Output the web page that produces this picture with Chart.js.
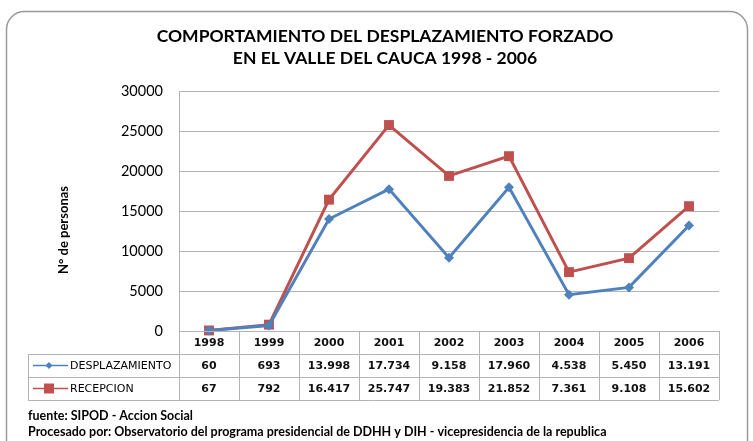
<!DOCTYPE html>
<html>
<head>
<meta charset="utf-8">
<script src="https://cdn.jsdelivr.net/npm/chart.js@4"></script>
<style>
  html, body { margin: 0; padding: 0; background: #fff; }
  #wrap { width: 753px; height: 441px; position: relative; }
</style>
</head>
<body>
<div id="wrap"><canvas id="chart" width="753" height="441"></canvas></div>
<script>
// Data
const years = ['1998', '1999', '2000', '2001', '2002', '2003', '2004', '2005', '2006'];
const desplazamiento = [60, 693, 13998, 17734, 9158, 17960, 4538, 5450, 13191];
const recepcion = [67, 792, 16417, 25747, 19383, 21852, 7361, 9108, 15602];
const yTicks = [0, 5000, 10000, 15000, 20000, 25000, 30000];

const titleLines = ['COMPORTAMIENTO DEL DESPLAZAMIENTO FORZADO', 'EN EL VALLE DEL CAUCA 1998 - 2006'];
const yTitle = 'N° de personas';
const footLines = [
  'fuente: SIPOD - Accion Social',
  'Procesado por: Observatorio del programa presidencial de DDHH y DIH - vicepresidencia de la republica'
];

const BLUE = '#4F81BD';
const RED = '#C0504D';
const GRID = '#B3B3B3';

// format numbers like 13.998
function fmt(v) {
  return v.toLocaleString('de-DE');
}

// Frame, title, axis title, data table and footer
const decorPlugin = {
  id: 'decor',
  beforeDraw(chart) {
    const ctx = chart.ctx;
    ctx.save();
    ctx.fillStyle = '#fff';
    ctx.fillRect(0, 0, chart.width, chart.height);
    // rounded frame
    ctx.strokeStyle = '#9a9a9a';
    ctx.lineWidth = 1.5;
    ctx.beginPath();
    ctx.roundRect(6.5, 11.5, 741, 460, 18);
    ctx.stroke();
    ctx.restore();
  },
  afterDraw(chart) {
    const ctx = chart.ctx;
    const area = chart.chartArea;
    const x = chart.scales.x;
    ctx.save();

    // title
    ctx.fillStyle = '#000';
    ctx.textAlign = 'center';
    ctx.textBaseline = 'middle';
    ctx.font = 'bold 17.5px Lato, "Open Sans", sans-serif';
    ctx.fillText(titleLines[0], 385, 36);
    ctx.fillText(titleLines[1], 385, 58);

    // y axis title
    ctx.save();
    ctx.translate(64, 230);
    ctx.rotate(-Math.PI / 2);
    ctx.font = 'bold 13px Lato, "Open Sans", sans-serif';
    ctx.fillText(yTitle, 0, 0);
    ctx.restore();

    // data table
    const tLeft = 28;
    const rowH = 23;
    const top = area.bottom;
    const rows = [top, top + rowH, top + rowH * 2, top + rowH * 3];
    const catW = (area.right - area.left) / years.length;
    ctx.strokeStyle = GRID;
    ctx.lineWidth = 1;
    ctx.beginPath();
    // horizontal lines
    ctx.moveTo(area.left, rows[0] + 0.5);
    ctx.lineTo(area.right, rows[0] + 0.5);
    for (let r = 1; r < 4; r++) {
      ctx.moveTo(tLeft, Math.round(rows[r]) + 0.5);
      ctx.lineTo(area.right, Math.round(rows[r]) + 0.5);
    }
    // vertical lines
    ctx.moveTo(tLeft + 0.5, rows[1]);
    ctx.lineTo(tLeft + 0.5, rows[3]);
    for (let i = 0; i <= years.length; i++) {
      const lx = Math.round(area.left + i * catW) + 0.5;
      ctx.moveTo(lx, i === 0 ? area.top : rows[0]);
      ctx.lineTo(lx, rows[3]);
    }
    ctx.stroke();

    ctx.fillStyle = '#111';
    ctx.textAlign = 'center';
    ctx.font = 'bold 11px "DejaVu Sans", Verdana, sans-serif';
    years.forEach((yr, i) => {
      const cx = x.getPixelForValue(i);
      ctx.fillText(yr, cx, rows[0] + rowH / 2 + 1);
      ctx.fillText(fmt(desplazamiento[i]), cx, rows[1] + rowH / 2 + 1);
      ctx.fillText(fmt(recepcion[i]), cx, rows[2] + rowH / 2 + 1);
    });

    // legend keys inside table
    const keys = [
      { label: 'DESPLAZAMIENTO', color: BLUE, style: 'rectRot', r: 3.5 },
      { label: 'RECEPCION', color: RED, style: 'rect', r: 5 }
    ];
    keys.forEach((k, i) => {
      const cy = rows[i + 1] + rowH / 2;
      ctx.strokeStyle = k.color;
      ctx.lineWidth = 1.5;
      ctx.beginPath();
      ctx.moveTo(33, cy);
      ctx.lineTo(68, cy);
      ctx.stroke();
      ctx.fillStyle = k.color;
      if (k.style === 'rect') {
        ctx.fillRect(49 - k.r, cy - k.r, k.r * 2, k.r * 2);
      } else {
        ctx.beginPath();
        ctx.moveTo(49, cy - k.r);
        ctx.lineTo(49 + k.r, cy);
        ctx.lineTo(49, cy + k.r);
        ctx.lineTo(49 - k.r, cy);
        ctx.closePath();
        ctx.fill();
      }
      ctx.fillStyle = '#000';
      ctx.textAlign = 'left';
      ctx.font = '11px "DejaVu Sans", Verdana, sans-serif';
      ctx.fillText(k.label, 70, cy + 1);
    });

    // footer
    ctx.textAlign = 'left';
    ctx.font = 'bold 12.5px Lato, sans-serif';
    ctx.fillText(footLines[0], 28, 416);
    ctx.fillText(footLines[1], 28, 432);

    ctx.restore();
  }
};

new Chart(document.getElementById('chart'), {
  type: 'line',
  data: {
    labels: years,
    datasets: [
      {
        label: 'DESPLAZAMIENTO',
        data: desplazamiento,
        borderColor: BLUE,
        backgroundColor: BLUE,
        borderWidth: 3,
        pointStyle: 'rectRot',
        pointRadius: 5,
        pointBorderWidth: 0,
        tension: 0,
        clip: false
      },
      {
        label: 'RECEPCION',
        data: recepcion,
        borderColor: RED,
        backgroundColor: RED,
        borderWidth: 3,
        pointStyle: 'rect',
        pointRadius: 7,
        pointBorderWidth: 0,
        tension: 0,
        clip: false
      }
    ]
  },
  options: {
    responsive: false,
    animation: false,
    layout: {
      padding: { left: 0, right: 34, top: 91, bottom: 110 }
    },
    plugins: {
      legend: { display: false },
      tooltip: { enabled: false }
    },
    scales: {
      x: {
        type: 'category',
        display: false,
        offset: true
      },
      y: {
        min: 0,
        max: 30000,
        afterFit(scale) { scale.width = 179; },
        afterBuildTicks(scale) { scale.ticks = yTicks.map(v => ({ value: v })); },
        border: { display: false },
        grid: {
          color: GRID,
          lineWidth: 1,
          drawTicks: false
        },
        ticks: {
          padding: 16,
          color: '#000',
          font: { family: 'Lato, "Open Sans", sans-serif', size: 14.5 },
          callback: v => String(v)
        }
      }
    }
  },
  plugins: [decorPlugin]
});
</script>
</body>
</html>
